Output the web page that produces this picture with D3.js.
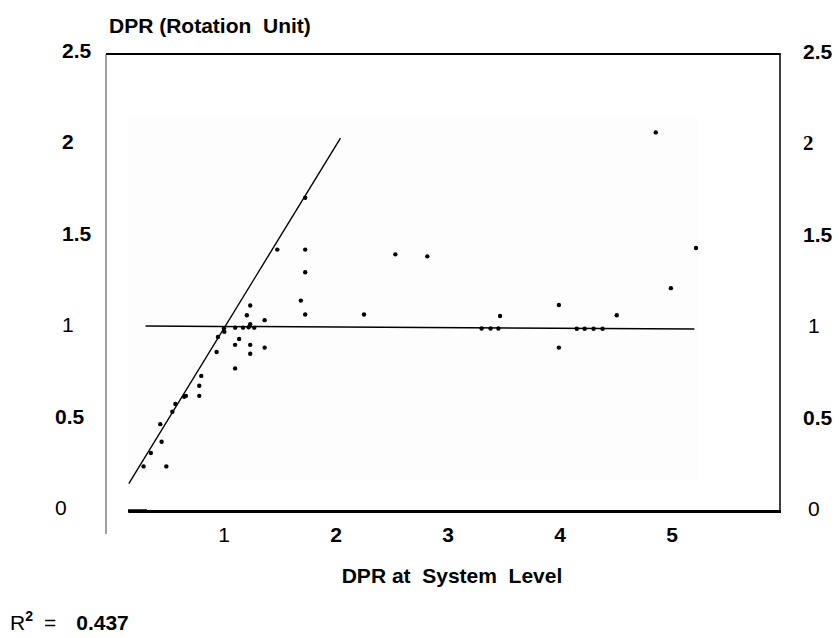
<!DOCTYPE html>
<html>
<head>
<meta charset="utf-8">
<script src="https://cdn.jsdelivr.net/npm/d3@7"></script>
<style>
  body { margin: 0; background: #fff; }
  text { font-family: "Liberation Sans", Arial, sans-serif; fill: #000; white-space: pre; }
</style>
</head>
<body>
<svg width="839" height="638"></svg>
<script>
// scatter values: system level DPR vs rotation unit DPR
var sysDPR  = [1.725, 1.476, 1.725, 1.725, 2.53, 2.815, 1.686, 1.725, 2.25, 1.234,
               1.204, 1.363, 1.234, 1.003, 0.946, 1.135, 1.099, 1.234, 1.234, 1.363,
               0.934, 1.099, 0.797, 0.779, 0.779, 0.644, 0.66, 0.566, 0.539, 0.431,
               0.443, 0.347, 0.282, 0.485, 3.465, 3.99, 3.99, 4.507, 4.99, 5.214,
               4.855, 1.0, 1.1, 1.17, 1.22, 1.27, 3.3, 3.38, 3.45, 4.15, 4.22, 4.3, 4.38];
var unitDPR = [1.714, 1.43, 1.43, 1.306, 1.404, 1.393, 1.151, 1.075, 1.075, 1.124,
               1.071, 1.044, 1.022, 0.98, 0.952, 0.941, 0.909, 0.909, 0.86, 0.894,
               0.87, 0.78, 0.739, 0.685, 0.63, 0.625, 0.63, 0.585, 0.543, 0.475,
               0.379, 0.317, 0.244, 0.244, 1.067, 1.127, 0.894, 1.071, 1.219, 1.439,
               2.071, 1.0, 1.003, 1.003, 1.005, 1.003, 0.998, 0.998, 0.998, 0.997, 0.997, 0.997, 0.997];

// the two reference lines
var diagX = [0.15, 2.04], diagY = [0.15, 2.04];
var flatX = [0.3, 5.2],   flatY = [1.012, 0.995];

var yTicks = [0, 0.5, 1, 1.5, 2, 2.5];
var yTickLabels = ["0", "0.5", "1", "1.5", "2", "2.5"];
var xTicks = [1, 2, 3, 4, 5];

var svg = d3.select("svg");

// frame edges (window.top is reserved, so own names)
var frameL = 106, frameR = 780, frameT = 54, frameB = 511;

var x = d3.scaleLinear().domain([0, 5]).range([112, 672]);
var y = d3.scaleLinear().domain([0, 2.5]).range([frameB, frameT]);

// faint scan background
svg.append("rect")
    .attr("x", 128).attr("y", 117)
    .attr("width", 571).attr("height", 363)
    .attr("fill", "#fdfdfd");

// x axis rule drawn with d3's own axis, ticks hidden
var xAxisG = svg.append("g")
    .attr("transform", "translate(0," + frameB + ")")
    .call(d3.axisBottom(d3.scaleLinear().domain([0, 1]).range([128, frameR + 0.75]))
        .tickValues([]).tickSizeOuter(0));
xAxisG.select(".domain")
    .attr("stroke", "#000")
    .attr("stroke-width", 2.5)
    .attr("shape-rendering", "crispEdges");

// frame: open left side, thin left rule that runs past the bottom
svg.append("line")
    .attr("x1", frameL).attr("x2", frameL).attr("y1", frameT).attr("y2", 534)
    .attr("stroke", "#444").attr("stroke-width", 1);
svg.append("line")
    .attr("x1", frameL).attr("x2", frameR + 0.75).attr("y1", frameT).attr("y2", frameT)
    .attr("stroke", "#000").attr("stroke-width", 2);
svg.append("line")
    .attr("x1", frameR).attr("x2", frameR).attr("y1", frameT).attr("y2", frameB + 1)
    .attr("stroke", "#000").attr("stroke-width", 1.5);
svg.append("line")
    .attr("x1", 128).attr("x2", 147).attr("y1", frameB).attr("y2", frameB)
    .style("stroke", "#000").style("stroke-width", "3.5px");

// reference lines
var line = d3.line().x(function(d) { return x(d[0]); }).y(function(d) { return y(d[1]); });
svg.append("path")
    .datum(d3.zip(diagX, diagY))
    .attr("d", line)
    .attr("fill", "none").attr("stroke", "#000").attr("stroke-width", 1.4);
svg.append("path")
    .datum(d3.zip(flatX, flatY))
    .attr("d", line)
    .attr("fill", "none").attr("stroke", "#000").attr("stroke-width", 1.5);

// points
svg.append("g")
  .selectAll("circle")
    .data(d3.zip(sysDPR, unitDPR))
  .enter().append("circle")
    .attr("cx", function(d) { return x(d[0]); })
    .attr("cy", function(d) { return y(d[1]); })
    .attr("r", 2.2)
    .attr("fill", "#000");

// y tick labels, both sides
var yl = svg.append("g");
yl.selectAll("text.left")
    .data(yTicks)
  .enter().append("text")
    .attr("class", "left")
    .attr("x", function(d) { return d < 1 ? 55 : 62; })
    .attr("y", function(d) { return y(d) + 4; })
    .attr("font-size", 21)
    .attr("font-weight", function(d) { return (d == 1 || d == 0) ? "normal" : "bold"; })
    .text(function(d, i) { return yTickLabels[i]; });

yl.selectAll("text.right")
    .data(yTicks)
  .enter().append("text")
    .attr("class", "right")
    .attr("x", function(d) { return (d == 1 || d == 0) ? 808 : 803; })
    .attr("y", function(d) { return y(d) + 5; })
    .attr("font-size", 21)
    .attr("font-weight", function(d) { return (d == 1 || d == 0) ? "normal" : "bold"; })
    .style("font-family", function(d) { return d == 2 ? "'Liberation Serif', serif" : null; })
    .text(function(d, i) { return yTickLabels[i]; });

// x tick labels
svg.append("g")
  .selectAll("text")
    .data(xTicks)
  .enter().append("text")
    .attr("x", function(d) { return x(d); })
    .attr("y", 542)
    .attr("text-anchor", "middle")
    .attr("font-size", 21)
    .attr("font-weight", function(d) { return d == 1 ? "normal" : "bold"; })
    .text(function(d) { return d; });

// titles
svg.append("text")
    .attr("x", 109).attr("y", 33)
    .attr("font-size", 21).attr("font-weight", "bold")
    .text("DPR (Rotation  Unit)");

svg.append("text")
    .attr("x", 452).attr("y", 583)
    .attr("text-anchor", "middle")
    .attr("font-size", 21).attr("font-weight", "bold")
    .text("DPR at  System  Level");

var r2 = svg.append("text")
    .attr("x", 10).attr("y", 630)
    .attr("font-size", 21);
r2.append("tspan").text("R");
r2.append("tspan").attr("dy", -9).attr("font-size", 14).attr("font-weight", "bold").text("2");
r2.append("tspan").attr("dy", 9).attr("dx", 11).text("=");
r2.append("tspan").attr("dx", 20).attr("font-weight", "bold").text("0.437");
</script>
</body>
</html>
